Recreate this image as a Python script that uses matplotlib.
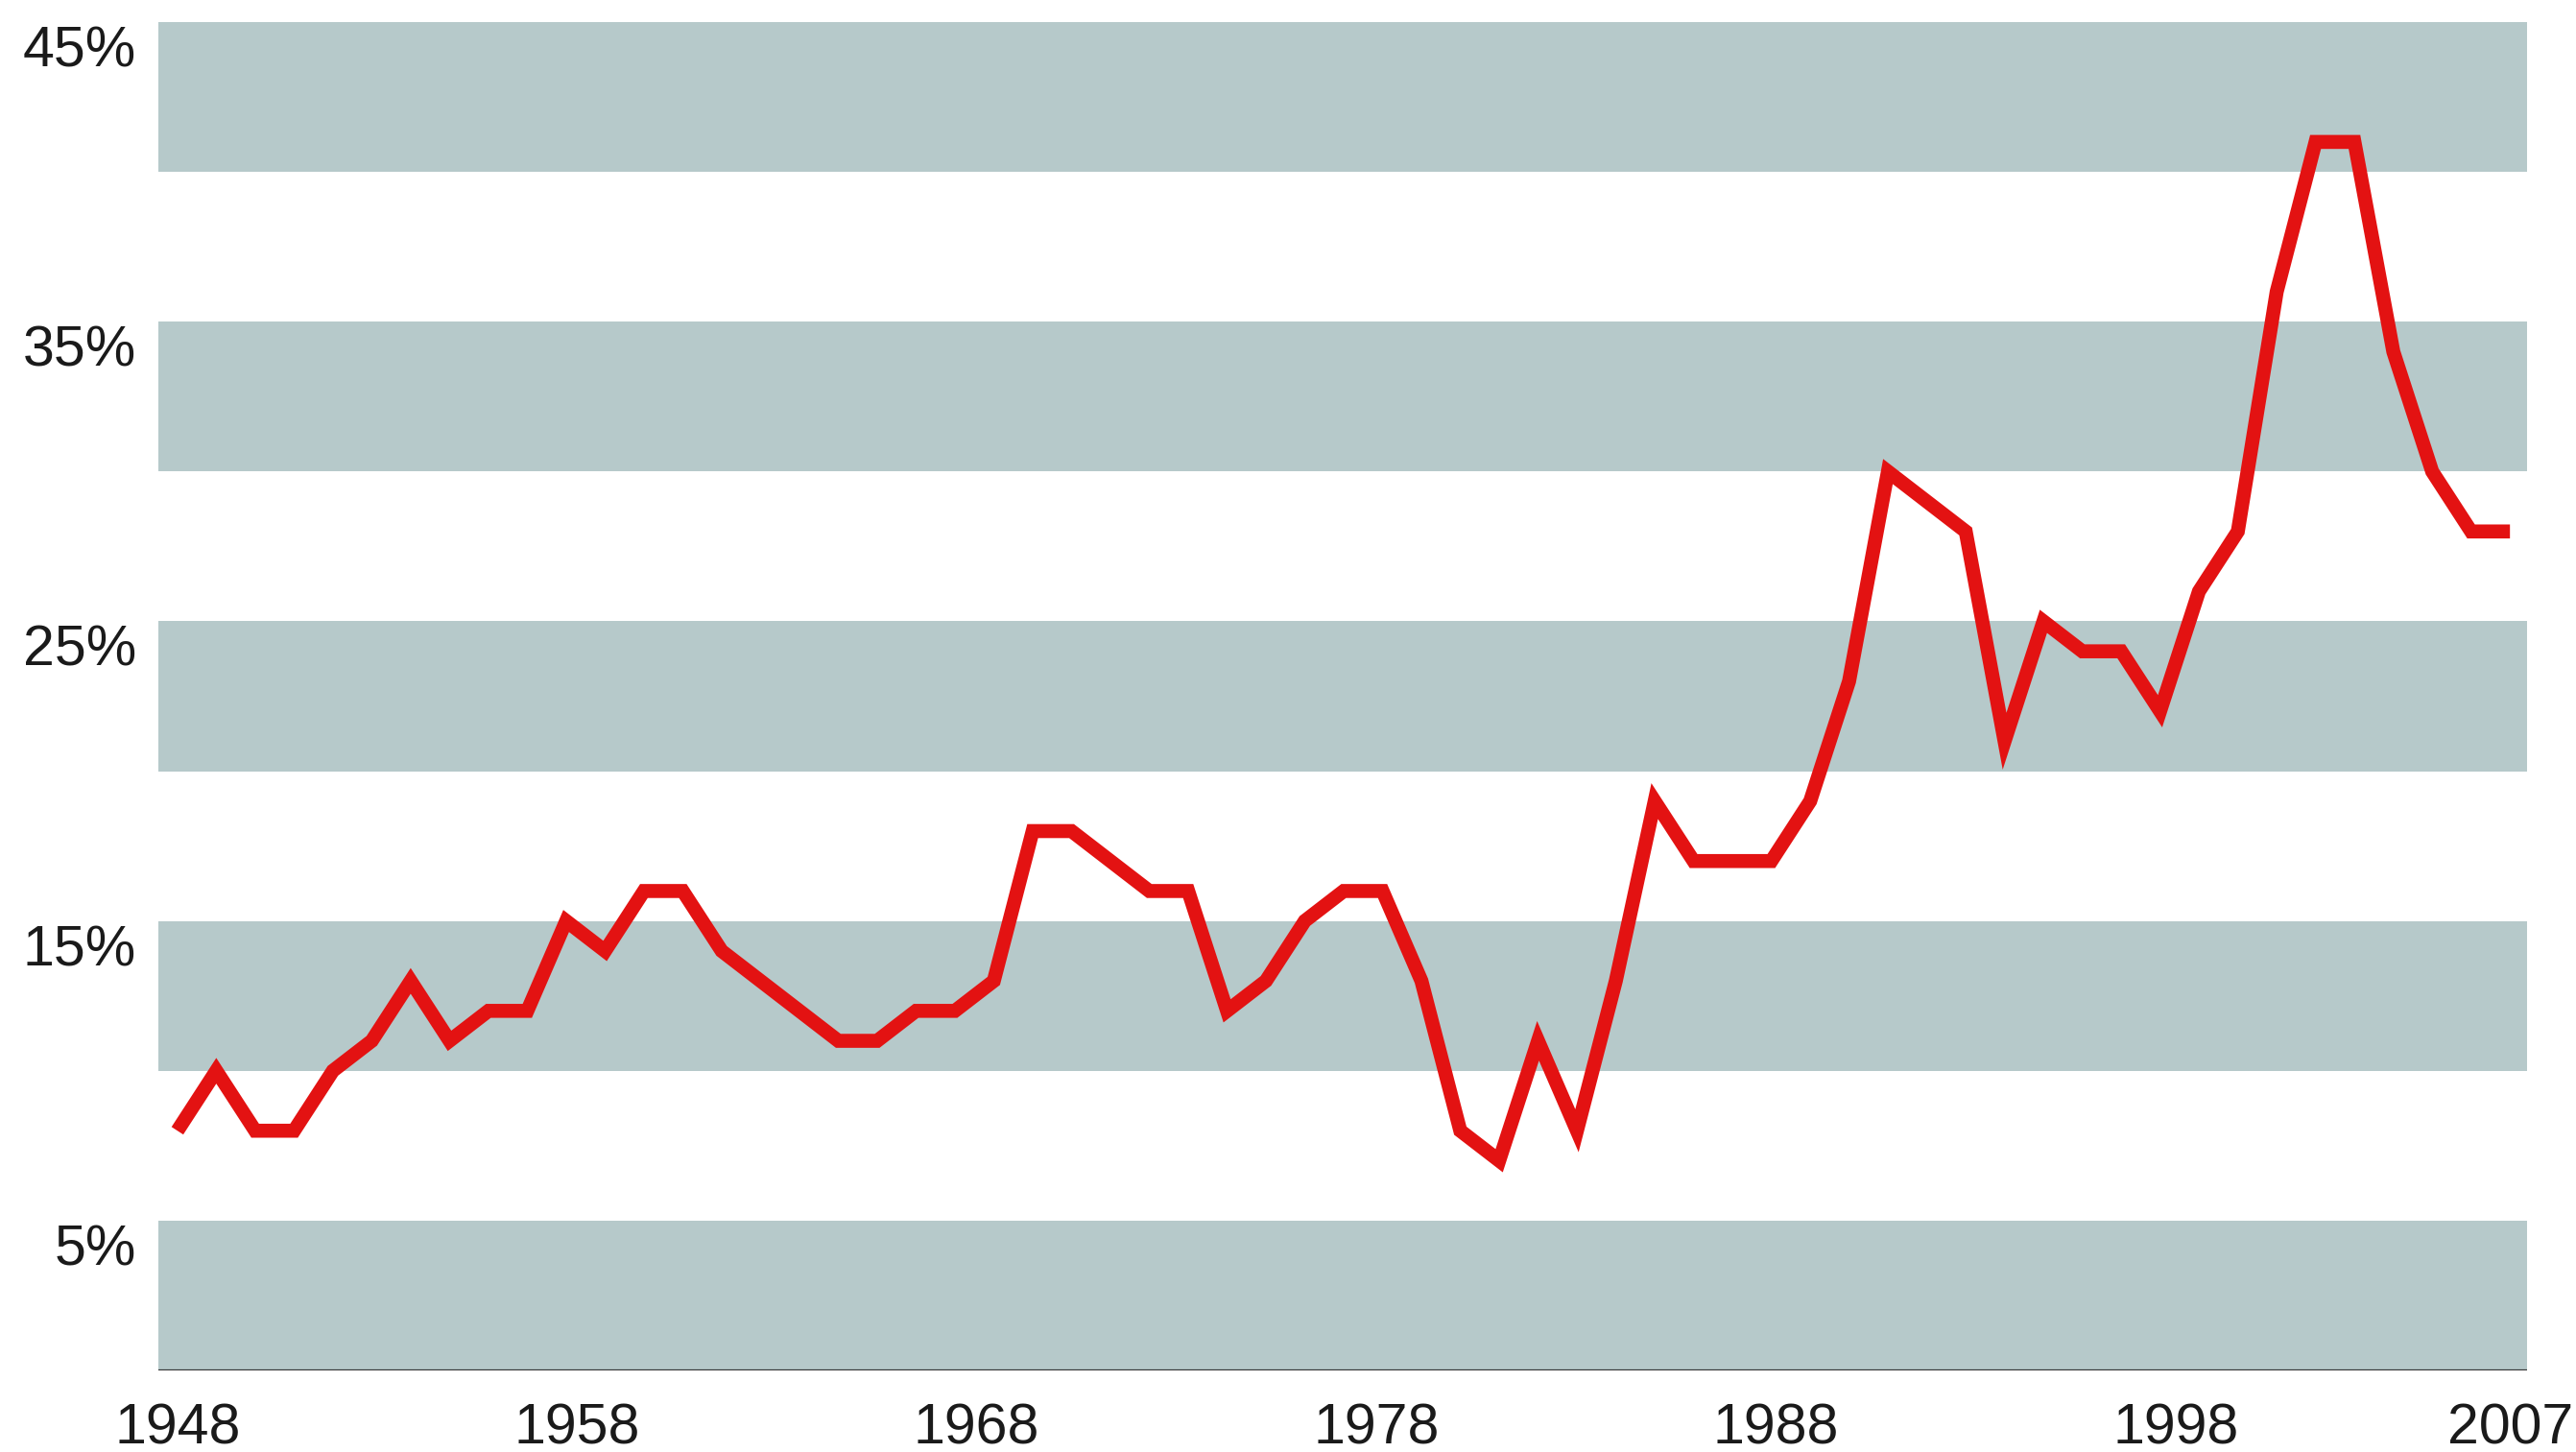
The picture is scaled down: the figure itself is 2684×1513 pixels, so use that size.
import matplotlib
matplotlib.use('Agg')
import matplotlib.pyplot as plt

# yearly values, percent
years = list(range(1948, 2009))
rate = [8, 10, 8, 8, 10, 11, 13, 11, 12, 12,
        15, 14, 16, 16, 14, 13, 12, 11, 11, 12,
        12, 13, 18, 18, 17, 16, 16, 12, 13, 15,
        16, 16, 13, 8, 7, 11, 8, 13, 19, 17,
        17, 17, 19, 23, 30, 29, 28, 21, 25, 24,
        24, 22, 26, 28, 36, 41, 41, 34, 30, 28,
        28]

y_ticks = [5, 15, 25, 35, 45]
x_labels = ['1948', '1958', '1968', '1978', '1988', '1998', '2007']

W, H = 2684, 1513
fig = plt.figure(figsize=(W / 100, H / 100), dpi=100)
fig.patch.set_facecolor('white')

left, right, bottom, top = 165, 2633, 1428, 23
ax = fig.add_axes([left / W, 1 - bottom / H, (right - left) / W, (bottom - top) / H])

band = '#b6c9ca'
for lo in range(0, 45, 10):
    ax.axhspan(lo, lo + 5, color=band, lw=0, zorder=0)

ax.plot(years, rate, color='#e31212', lw=10.5, solid_joinstyle='miter',
        solid_capstyle='butt', zorder=3)

ax.axhline(0, color='#333333', lw=1.6, zorder=2)

ax.set_ylim(0, 45)
ax.set_xlim(1947.51, 2008.44)
ax.axis('off')

font = dict(family=['Liberation Sans', 'DejaVu Sans'], size=42.5, color='#1a1a1a')

# y labels sit just under the top of each band
for v in y_ticks:
    ax.annotate('%d%%' % v, xy=(0, v), xycoords=('axes fraction', 'data'),
                xytext=(-23, -31), textcoords='offset pixels',
                ha='right', va='center', **font)

# x labels are spread a bit wider than the data, last one at the end of the line
step = 10.28
for k, lab in enumerate(x_labels):
    xpos = years[0] + k * step if k < len(x_labels) - 1 else years[-1]
    ax.annotate(lab, xy=(xpos, 0), xycoords=('data', 'data'),
                xytext=(0, -61), textcoords='offset pixels',
                ha='center', va='center', **font)

fig.savefig('out.png', dpi=100, facecolor='white')
